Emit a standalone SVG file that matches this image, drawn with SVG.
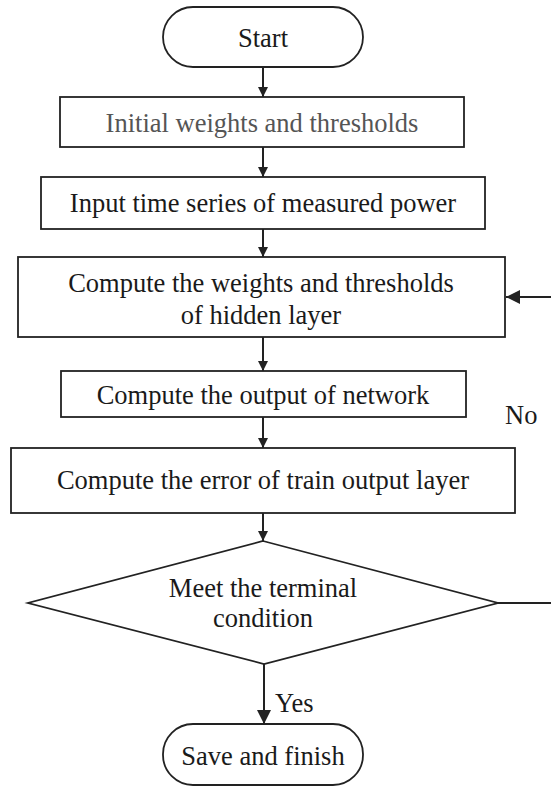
<svg xmlns="http://www.w3.org/2000/svg" width="551" height="788" viewBox="0 0 551 788">
  <style>
    .shape { fill: #fff; stroke: #222; stroke-width: 1.8; }
    .label { font-family: "Liberation Serif", "Times New Roman", serif; font-size: 26.5px; fill: #1a1a1a; text-anchor: middle; }
    .muted { fill: #555; }
    .edge { fill: none; stroke: #222; stroke-width: 2; }
    .free { text-anchor: start; }
  </style>
  <defs>
    <marker id="arrow" viewBox="0 0 10 10" refX="10" refY="5" markerWidth="10" markerHeight="10" markerUnits="userSpaceOnUse" orient="auto">
      <path d="M0,0 L10,5 L0,10 Z" fill="#222"/>
    </marker>
    <marker id="arrow-big" viewBox="0 0 10 10" refX="10" refY="5" markerWidth="14" markerHeight="14" markerUnits="userSpaceOnUse" orient="auto">
      <path d="M0,0 L10,5 L0,10 Z" fill="#222"/>
    </marker>
  </defs>

  <rect width="551" height="788" fill="#fff"/>

  <!-- connectors -->
  <g id="connectors">
    <line class="edge" x1="263" y1="67" x2="263" y2="97" marker-end="url(#arrow)"/>
    <line class="edge" x1="263" y1="147" x2="263" y2="177" marker-end="url(#arrow)"/>
    <line class="edge" x1="263" y1="229" x2="263" y2="257" marker-end="url(#arrow)"/>
    <line class="edge" x1="263" y1="337" x2="263" y2="371" marker-end="url(#arrow)"/>
    <line class="edge" x1="263" y1="417" x2="263" y2="448" marker-end="url(#arrow)"/>
    <line class="edge" x1="263" y1="513" x2="263" y2="541" marker-end="url(#arrow)"/>
    <line class="edge" x1="264" y1="664" x2="264" y2="724" marker-end="url(#arrow-big)"/>
    <!-- loop back on "No" -->
    <line class="edge" x1="498" y1="603" x2="551" y2="603"/>
    <line class="edge" x1="551" y1="297" x2="506" y2="297" marker-end="url(#arrow-big)"/>
    <text class="label free" x="505" y="424">No</text>
    <text class="label free" x="275" y="712">Yes</text>
  </g>

  <g id="start">
    <rect class="shape" x="163" y="7" width="200" height="60" rx="30" ry="30"/>
    <text class="label" x="263" y="47">Start</text>
  </g>

  <g id="init">
    <rect class="shape" x="60" y="97" width="404" height="50"/>
    <text class="label muted" x="262" y="132">Initial weights and thresholds</text>
  </g>

  <g id="input">
    <rect class="shape" x="41" y="177" width="444" height="52"/>
    <text class="label" x="263" y="212">Input time series of measured power</text>
  </g>

  <g id="hidden">
    <rect class="shape" x="18" y="257" width="487" height="80"/>
    <text class="label" x="261" y="292">Compute the weights and thresholds</text>
    <text class="label" x="261" y="324">of hidden layer</text>
  </g>

  <g id="output">
    <rect class="shape" x="61" y="371" width="405" height="46"/>
    <text class="label" x="263" y="404">Compute the output of network</text>
  </g>

  <g id="error">
    <rect class="shape" x="11" y="448" width="504" height="65"/>
    <text class="label" x="263" y="489">Compute the error of train output layer</text>
  </g>

  <g id="decision">
    <polygon class="shape" points="263,541 498,603 264,664 28,603"/>
    <text class="label" x="263" y="597">Meet the terminal</text>
    <text class="label" x="263" y="627">condition</text>
  </g>

  <g id="finish">
    <rect class="shape" x="163" y="724" width="200" height="61" rx="30" ry="30"/>
    <text class="label" x="263" y="765">Save and finish</text>
  </g>
</svg>
